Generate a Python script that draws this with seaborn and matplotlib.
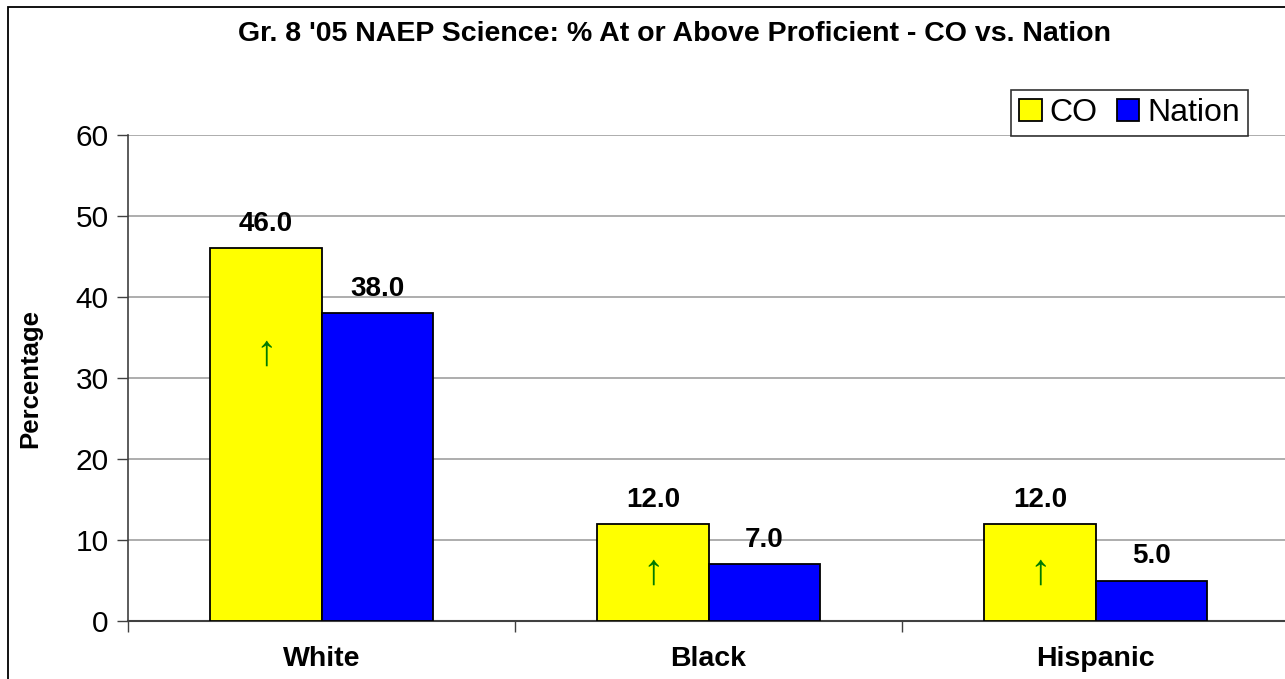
import matplotlib
matplotlib.use("Agg")
import matplotlib.pyplot as plt
import matplotlib.patches as patches
import seaborn as sns
import pandas as pd

# Dados do grafico
grupos = ["White", "Black", "Hispanic"]
co = [46.0, 12.0, 12.0]
nacao = [38.0, 7.0, 5.0]
setas_y = [33, 6, 6]  # posicao vertical das setas verdes nas barras CO

df = pd.DataFrame({
    "grupo": grupos * 2,
    "valor": co + nacao,
    "serie": ["CO"] * 3 + ["Nation"] * 3,
})

sns.set_theme(style="white")
plt.rcParams["font.family"] = ["Liberation Sans", "DejaVu Sans"]
plt.rcParams["text.color"] = "black"
plt.rcParams["axes.labelcolor"] = "black"
plt.rcParams["xtick.color"] = "black"
plt.rcParams["ytick.color"] = "black"

fig = plt.figure(figsize=(12.85, 6.79), dpi=100)
ax = fig.add_axes([128 / 1285, 58 / 679, 1161 / 1285, 486 / 679])

sns.barplot(data=df, x="grupo", y="valor", hue="serie", order=grupos,
            palette={"CO": "#FFFF00", "Nation": "#0000FF"}, width=0.574,
            edgecolor="black", linewidth=1.3, saturation=1, ax=ax, zorder=3)

for cont in ax.containers:
    ax.bar_label(cont, fmt="%.1f", padding=8, fontsize=20, fontweight="bold")

# setas verdes dentro das barras CO
for i, y in enumerate(setas_y):
    ax.text(i - 0.1435, y, "\u2191", color="#007A00", fontsize=31,
            ha="center", va="center", zorder=4)

ax.set_ylim(0, 60)
ax.set_xlim(-0.5, 2.5)
ax.set_yticks(range(0, 61, 10))
ax.yaxis.grid(True, color="#A0A0A0", linewidth=1.2, zorder=0)
ax.tick_params(axis="y", labelsize=21.5, length=8, width=1, color="#404040",
               left=True, pad=6)
ax.set_xticks([-0.5, 0.5, 1.5, 2.5])
ax.set_xticklabels([])
ax.set_xticks([0, 1, 2], minor=True)
ax.set_xticklabels(grupos, minor=True, fontsize=20.5, fontweight="bold")
ax.tick_params(axis="x", which="major", length=8, width=1, color="#404040",
               bottom=True)
ax.tick_params(axis="x", which="minor", length=0, pad=18)
ax.set_xlabel("")
ax.set_ylabel("Percentage", fontsize=18.5, fontweight="bold", labelpad=24)

for lado in ["top", "right"]:
    ax.spines[lado].set_visible(False)
ax.spines["left"].set_color("#404040")
ax.spines["bottom"].set_color("#404040")
ax.spines["left"].set_linewidth(1.2)
ax.spines["bottom"].set_linewidth(1.5)

leg = ax.legend(loc="lower right", bbox_to_anchor=(1248 / 1285, 1 - 136 / 679),
                bbox_transform=fig.transFigure, ncol=2, fontsize=23,
                frameon=True, fancybox=False, handlelength=0.7,
                handleheight=0.7, handletextpad=0.25, columnspacing=0.6,
                borderpad=0.25, borderaxespad=0)
leg.get_frame().set_edgecolor("black")
leg.get_frame().set_linewidth(1.2)

fig.text(675 / 1285, 1 - 34 / 679,
         "Gr. 8 '05 NAEP Science: % At or Above Proficient - CO vs. Nation",
         ha="center", va="center", fontsize=20.5, fontweight="bold")

# moldura da figura
fig.patches.append(patches.Rectangle((8 / 1285, -0.1), 1.2, 1.1 - 7 / 679,
                                     transform=fig.transFigure, fill=False,
                                     edgecolor="black", linewidth=1.3))

fig.savefig("out.png", dpi=100)
